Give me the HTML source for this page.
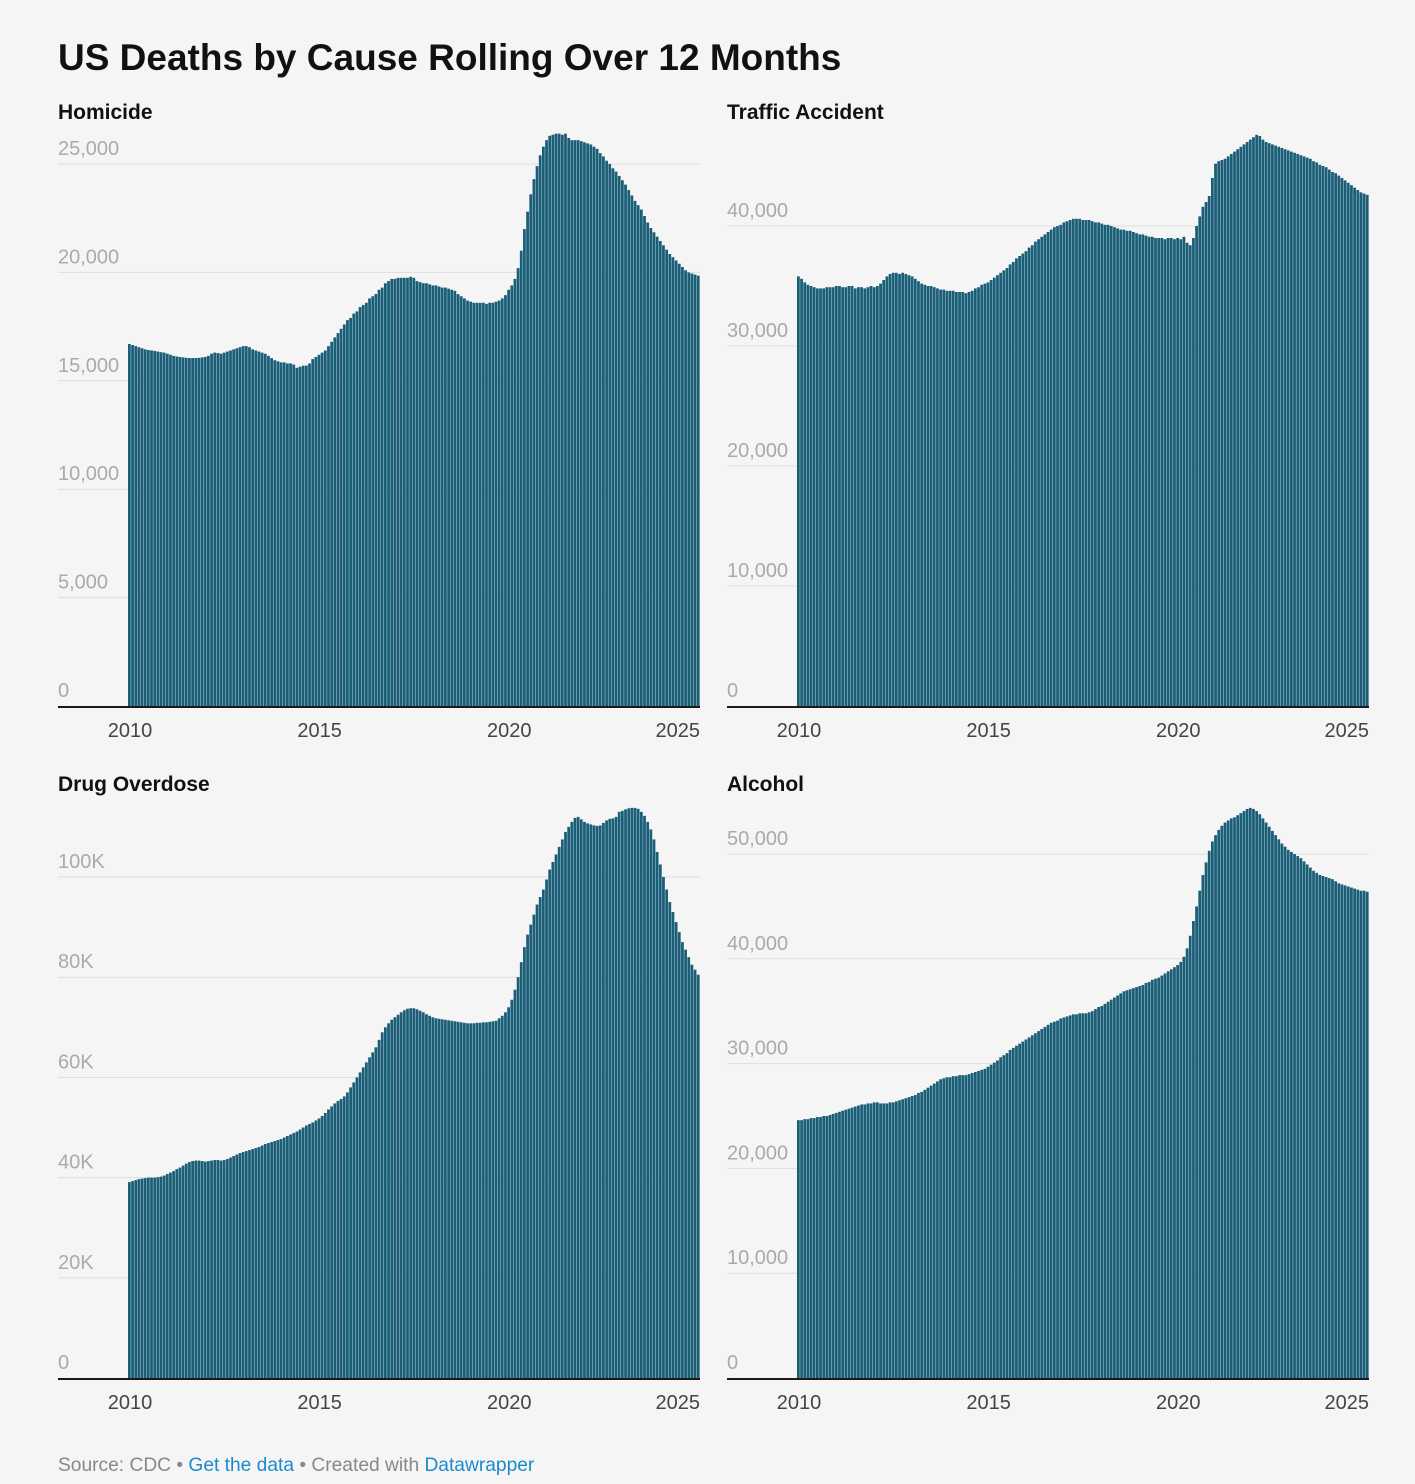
<!DOCTYPE html>
<html><head><meta charset="utf-8"><style>
html,body{margin:0;padding:0;background:#f5f5f5;}
body{width:1415px;height:1479px;overflow:hidden;font-family:"Liberation Sans",sans-serif;}
svg text{font-family:"Liberation Sans",sans-serif;}
</style></head><body>
<svg id="chart" width="1415" height="1479" xmlns="http://www.w3.org/2000/svg">
<text x="58" y="70" font-size="37" font-weight="bold" fill="#111">US Deaths by Cause Rolling Over 12 Months</text>
<text x="58" y="1471" font-size="19.2" fill="#888">Source: CDC • <tspan fill="#1a8bcb">Get the data</tspan> • Created with <tspan fill="#1a8bcb">Datawrapper</tspan></text>
</svg>
<script>
const yearLabels = ["2010","2015","2020","2025"];
const homicide = [
16700,16650,16600,16550,16500,16450,16420,16400,16380,16350,16320,16300,
16250,16200,16150,16120,16100,16080,16060,16050,16050,16050,16060,16080,
16100,16150,16250,16300,16280,16250,16300,16350,16400,16450,16500,16550,
16600,16600,16550,16450,16400,16350,16300,16250,16150,16050,15950,15900,
15850,15850,15800,15800,15750,15600,15650,15700,15700,15800,16000,16100,
16200,16300,16400,16600,16800,17000,17200,17400,17600,17800,17900,18100,
18200,18400,18500,18600,18800,18900,19000,19200,19300,19500,19600,19700,
19700,19750,19750,19750,19750,19800,19750,19600,19550,19500,19500,19450,
19400,19400,19350,19300,19300,19250,19200,19150,19000,18900,18800,18700,
18650,18600,18600,18600,18600,18550,18600,18600,18650,18700,18800,18950,
19200,19400,19700,20200,21000,22000,22800,23600,24300,24900,25400,25800,
26100,26300,26350,26400,26400,26350,26400,26200,26100,26100,26100,26050,
26000,25950,25900,25800,25700,25500,25350,25150,25000,24800,24650,24450,
24250,24050,23800,23550,23300,23100,22900,22600,22300,22050,21850,21650,
21450,21250,21050,20850,20700,20550,20400,20250,20100,20000,19950,19900,19850];
const traffic = [
35800,35600,35300,35100,35000,34900,34800,34800,34800,34900,34900,34900,
35000,35000,34900,34900,35000,35000,34800,34900,34900,34800,34900,35000,
34900,35000,35200,35500,35800,36000,36100,36100,36000,36100,36000,35900,
35800,35600,35400,35200,35100,35000,35000,34900,34800,34700,34700,34600,
34600,34600,34500,34500,34500,34400,34500,34600,34800,34900,35100,35200,
35300,35500,35700,35900,36100,36300,36500,36800,37000,37300,37500,37700,
37900,38200,38400,38700,38900,39100,39300,39500,39700,39900,40000,40100,
40300,40400,40500,40600,40600,40600,40500,40500,40500,40400,40300,40300,
40200,40100,40100,40000,39900,39800,39700,39700,39600,39600,39500,39400,
39300,39300,39200,39100,39100,39000,39000,39000,38900,39000,39000,38900,
39000,38900,39100,38600,38400,39000,40000,40800,41600,42000,42500,44000,
45200,45400,45500,45600,45800,46000,46200,46400,46600,46800,47000,47200,
47400,47600,47500,47200,47000,46900,46800,46700,46600,46500,46400,46300,
46200,46100,46000,45900,45800,45700,45600,45400,45300,45100,45000,44900,
44700,44500,44400,44200,44000,43800,43600,43400,43200,43000,42800,42700,42600];
const drugs = [
39100,39300,39500,39700,39800,39900,40000,40000,40000,40100,40200,40400,
40700,41000,41300,41700,42000,42400,42800,43100,43300,43400,43400,43300,
43200,43300,43400,43500,43500,43400,43500,43700,44000,44300,44600,44900,
45100,45300,45500,45700,45900,46100,46400,46700,46900,47100,47300,47500,
47700,48000,48300,48600,48900,49200,49600,50000,50400,50700,51000,51400,
51800,52300,52900,53600,54200,54800,55300,55700,56200,57000,58000,59000,
60000,61000,62000,63000,64000,65000,66000,67500,69000,70000,70800,71500,
72000,72500,73000,73400,73700,73800,73800,73600,73300,73000,72600,72300,
72000,71800,71700,71600,71500,71400,71300,71200,71100,71000,70900,70800,
70800,70800,70900,70900,71000,71000,71100,71200,71300,71800,72300,73000,
74000,75500,77500,80000,83000,86000,88500,90500,92500,94500,96000,97500,
99500,101500,103000,104500,106000,107500,109000,110000,111000,111800,112000,111500,
111000,110700,110500,110300,110200,110300,110800,111300,111600,111700,112000,113000,
113200,113500,113700,113800,113800,113600,113000,112200,111000,109500,107500,105000,
102500,100000,97500,95000,93000,91000,89000,87000,85500,84000,82500,81500,80500];
const alcohol = [
24600,24600,24700,24700,24800,24800,24900,24900,25000,25000,25100,25200,
25300,25400,25500,25600,25700,25800,25900,26000,26100,26100,26200,26200,
26300,26300,26200,26200,26200,26300,26300,26400,26500,26600,26700,26800,
26900,27000,27200,27300,27500,27700,27900,28100,28300,28500,28600,28700,
28700,28800,28800,28900,28900,28900,29000,29100,29200,29300,29400,29500,
29700,29900,30100,30300,30600,30800,31000,31300,31500,31700,31900,32100,
32300,32500,32700,32900,33100,33300,33500,33700,33900,34000,34100,34300,
34400,34500,34600,34700,34700,34800,34800,34800,34900,35000,35200,35400,
35500,35700,35900,36100,36300,36500,36700,36900,37000,37100,37200,37300,
37400,37500,37700,37800,38000,38100,38200,38400,38600,38800,39000,39200,
39400,39700,40200,41000,42200,43600,45000,46500,48000,49200,50300,51200,
51800,52300,52700,53000,53200,53400,53500,53700,53900,54100,54300,54400,
54300,54100,53800,53400,53000,52600,52200,51800,51400,51000,50700,50400,
50200,50000,49800,49600,49300,49000,48700,48400,48200,48000,47900,47800,
47700,47600,47400,47200,47100,47000,46900,46800,46700,46600,46500,46500,46400];
const homicideTicks = [0,5000,10000,15000,20000,25000];
const trafficTicks = [0,10000,20000,30000,40000];
const drugTicks = [0,20000,40000,60000,80000,100000];
const alcoholTicks = [0,10000,20000,30000,40000,50000];

const svg = document.getElementById('chart');
const NS = 'http://www.w3.org/2000/svg';
function mk(tag, attrs){const e=document.createElementNS(NS,tag);for(const k in attrs)e.setAttribute(k,attrs[k]);svg.appendChild(e);return e;}
function fmt(v, k){ if(k) return v===0?'0':(v/1000)+'K'; return v.toLocaleString('en-US'); }

function panel(name, title, ox, oy, data, ticks, pxPerUnit, useK){
  const left = ox, right = ox+642, base = oy+586, dataLeft = ox+70;
  const step = (right-dataLeft)/data.length;
  const monthsPerYear = 12;
  const yS = v => base - v*pxPerUnit;
  const xS = m => dataLeft + m*step;
  const t = mk('text',{x:left,y:oy-1,'font-size':21,'font-weight':'bold',fill:'#111'});
  t.textContent = title;
  
  
  ticks.forEach(v=>{
    if(v>0){
      const g = mk('line',{x1:left,x2:right,y1:yS(v),y2:yS(v),stroke:'#dddddd','stroke-width':1});
      
      
    }
  });
  data.forEach((v,i)=>{
    const r = mk('rect',{x:xS(i),y:yS(v),width:step*0.88,height:base-yS(v),fill:'#1b5e78'});
    
    
  });
  ticks.forEach(v=>{
    const l = mk('text',{x:left,y:yS(v)-9,'font-size':20,fill:'#aaaaaa'});
    l.textContent = fmt(v,useK);
    
    
  });
  const b = mk('line',{x1:left,x2:right,y1:base+1,y2:base+1,stroke:'#1a1a1a','stroke-width':2});
  
  
  yearLabels.forEach((y,i)=>{
    let x = xS(i*5*monthsPerYear)+2, anchor='middle';
    if(i===yearLabels.length-1){x=right;anchor='end';}
    const l = mk('text',{x:x,y:base+31,'font-size':20,fill:'#444','text-anchor':anchor});
    l.textContent = y;
    
    
  });
}
panel('homicide','Homicide',58,120,homicide,homicideTicks,108.4/5000,false);
panel('traffic','Traffic Accident',727,120,traffic,trafficTicks,120/10000,false);
panel('drug-overdose','Drug Overdose',58,792,drugs,drugTicks,100.2/20000,true);
panel('alcohol','Alcohol',727,792,alcohol,alcoholTicks,104.8/10000,false);
</script>
</body></html>
